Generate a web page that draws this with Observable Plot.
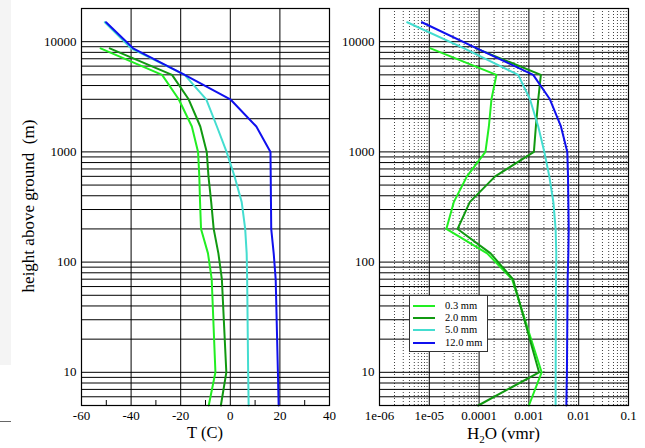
<!DOCTYPE html>
<html><head><meta charset="utf-8">
<script src="https://cdn.jsdelivr.net/npm/d3@7"></script>
<script src="https://cdn.jsdelivr.net/npm/@observablehq/plot@0.6"></script>
<style>
body{margin:0;background:#fff;}
#wrap{position:relative;width:645px;height:448px;overflow:hidden;font-family:"Liberation Serif","Times New Roman",serif;color:#000;}
.panel{position:absolute;top:0;}
.ttl{position:absolute;font-size:16.5px;white-space:pre;line-height:1;}
#ylab{position:absolute;left:28px;top:206px;transform:translate(-50%,-50%) rotate(-90deg);font-size:17px;white-space:pre;line-height:1;}
#legend{position:absolute;left:409px;top:295px;width:77px;height:55px;background:#fff;border:1px solid #333;font-size:10.5px;}
#legend .row{position:absolute;left:0;height:12px;width:77px;}
#legend svg{position:absolute;left:3px;top:0;}
#legend span{position:absolute;left:35px;top:0;line-height:12px;}
#shade{position:absolute;left:0;top:0;width:11px;height:365px;background:#f4f4f4;}
#dash{position:absolute;left:0;top:421px;width:11px;height:1px;background:#666;}
</style></head><body>
<div id="wrap">
  <div id="shade"></div><div id="dash"></div>
</div>
<script>
// ---- data ----
const heights = [5, 10, 70, 120, 200, 350, 600, 1000, 1700, 3000, 5000, 8700, 15000];
const series = ["0.3 mm", "2.0 mm", "5.0 mm", "12.0 mm"];
const colors = ["#22ee22", "#119911", "#44ddd0", "#1010ee"];

const temp03  = [-8.7, -6.0, -7.5, -9.0, -11.8, -12.2, -12.5, -13.0, -15.5, -20.8, -27.5, -52.3];
const temp20  = [-3.8, -1.6, -3.4, -4.8, -6.7, -7.7, -8.8, -9.5, -12.1, -16.8, -23.5, -48.6];
const temp50  = [7.4, 7.2, 6.8, 6.6, 6.0, 4.6, 1.7, -1.5, -5.4, -9.7, -18.4, -40.0, -50.6];
const temp120 = [19.5, 19.2, 18.3, 17.5, 16.5, 16.4, 16.3, 16.2, 10.5, 0.0, -18.4, -39.2, -50.1];

const h2o03  = [1.0e-3, 1.8e-3, 4.6e-4, 1.45e-4, 2.2e-5, 3.1e-5, 5.7e-5, 1.34e-4, 1.57e-4, 1.77e-4, 2.23e-4, 1.06e-5];
const h2o20  = [9.6e-5, 1.6e-3, 4.8e-4, 1.7e-4, 3.7e-5, 6.5e-5, 2.1e-4, 1.26e-3, 1.38e-3, 1.54e-3, 1.74e-3, 8.6e-5];
const h2o50  = [3.44e-3, 3.45e-3, 3.5e-3, 3.55e-3, 3.44e-3, 3.1e-3, 2.57e-3, 2.04e-3, 1.54e-3, 1.05e-3, 6.1e-4, 5.0e-5, 3.6e-6];
const h2o120 = [5.65e-3, 5.8e-3, 6.0e-3, 6.2e-3, 6.3e-3, 6.2e-3, 6.1e-3, 5.9e-3, 4.4e-3, 2.64e-3, 1.22e-3, 9.0e-5, 7.1e-6];

const yDomain = [5, 20000];
const yLabelTicks = [10, 100, 1000, 10000];
const tDomain = [-60, 40];
const tLabelTicks = [-60, -40, -20, 0, 20, 40];
const tGrid = [-40, -20, 0, 20];
const tMinorTicks = [-50, -30, -10, 10, 30];
const wDomain = [1e-6, 0.1];
const wLabelTicks = [1e-6, 1e-5, 1e-4, 1e-3, 1e-2, 1e-1];
const wLabelText = ["1e-06", "1e-05", "0.0001", "0.001", "0.01", "0.1"];

// ---- build ----
const temps = [temp03, temp20, temp50, temp120];
const h2os = [h2o03, h2o20, h2o50, h2o120];
const rows = vals => vals.map((v, i) => ({h: heights[i], v}));

const yGrid = d3.scaleLog().domain(yDomain).ticks(60);
const wAll = d3.scaleLog().domain(wDomain).ticks(80);
const wMinor = wAll.filter(d => !wLabelTicks.some(t => Math.abs(t - d) / t < 1e-6));
const wMajor = wLabelTicks.slice(1, -1);

const common = {
  height: 448,
  marginTop: 8,
  marginBottom: 43,
  style: {fontFamily: "Liberation Serif, Times New Roman, serif", fontSize: "13px", background: "transparent", color: "#000"}
};

const lineMarks = vals => vals.map((arr, i) =>
  Plot.line(rows(arr), {x: "v", y: "h", stroke: colors[i], strokeWidth: 2, curve: "linear"}));

const left = Plot.plot({
  ...common,
  width: 340,
  marginLeft: 81,
  marginRight: 11,
  x: {domain: tDomain},
  y: {type: "log", domain: yDomain},
  marks: [
    Plot.ruleY(yGrid, {stroke: "#000", strokeWidth: 1}),
    Plot.ruleX(tGrid, {stroke: "#000", strokeWidth: 1}),
    Plot.axisX({ticks: tMinorTicks, tickSize: -5, tickFormat: () => "", label: null}),
    Plot.axisX({ticks: tLabelTicks, tickSize: 0, tickPadding: 5, label: null, tickFormat: d => String(d)}),
    Plot.axisY({ticks: yLabelTicks, tickSize: 0, tickPadding: 5, label: null, tickFormat: d => String(d)}),
    ...lineMarks(temps),
    Plot.frame({stroke: "#000", strokeWidth: 1.2})
  ]
});

const right = Plot.plot({
  ...common,
  width: 305,
  marginLeft: 39,
  marginRight: 17,
  x: {type: "log", domain: wDomain},
  y: {type: "log", domain: yDomain},
  marks: [
    Plot.ruleX(wMinor, {stroke: "#000", strokeOpacity: 0.75, strokeWidth: 1, strokeDasharray: "1,2"}),
    Plot.ruleY(yGrid, {stroke: "#000", strokeWidth: 1}),
    Plot.ruleX(wMajor, {stroke: "#000", strokeWidth: 1}),
    Plot.axisX({ticks: wLabelTicks, tickSize: 0, tickPadding: 5, label: null,
      tickFormat: d => wLabelText[wLabelTicks.findIndex(t => Math.abs(t - d) / t < 1e-6)]}),
    Plot.axisY({ticks: yLabelTicks, tickSize: 0, tickPadding: 5, label: null, tickFormat: d => String(d)}),
    ...lineMarks(h2os),
    Plot.frame({stroke: "#000", strokeWidth: 1.2})
  ]
});

const wrap = document.getElementById("wrap");
left.classList.add("panel"); left.style.left = "0px";
right.classList.add("panel"); right.style.left = "340px";
wrap.appendChild(left);
wrap.appendChild(right);

// titles
function addText(html, cls) {
  const d = document.createElement("div");
  d.className = cls; d.innerHTML = html; wrap.appendChild(d); return d;
}
const t1 = addText("T (C)", "ttl");
t1.style.left = (205 - t1.offsetWidth / 2) + "px"; t1.style.top = "425px";
const t2 = addText("H<sub style=\"font-size:11px;vertical-align:-4px;line-height:0\">2</sub>O (vmr)", "ttl");
t2.style.fontSize = "17px";
t2.style.left = (503.5 - t2.offsetWidth / 2) + "px"; t2.style.top = "425px";
const yl = document.createElement("div"); yl.id = "ylab"; yl.textContent = "height above ground  (m)"; wrap.appendChild(yl);

// legend
const lg = document.createElement("div"); lg.id = "legend";
series.forEach((s, i) => {
  const r = document.createElement("div"); r.className = "row"; r.style.top = (4 + i * 12.2) + "px";
  r.innerHTML = `<svg width="24" height="12"><line x1="0" x2="22" y1="6" y2="6" stroke="${colors[i]}" stroke-width="2"/></svg><span>${s}</span>`;
  lg.appendChild(r);
});
wrap.appendChild(lg);
</script>
</body></html>
